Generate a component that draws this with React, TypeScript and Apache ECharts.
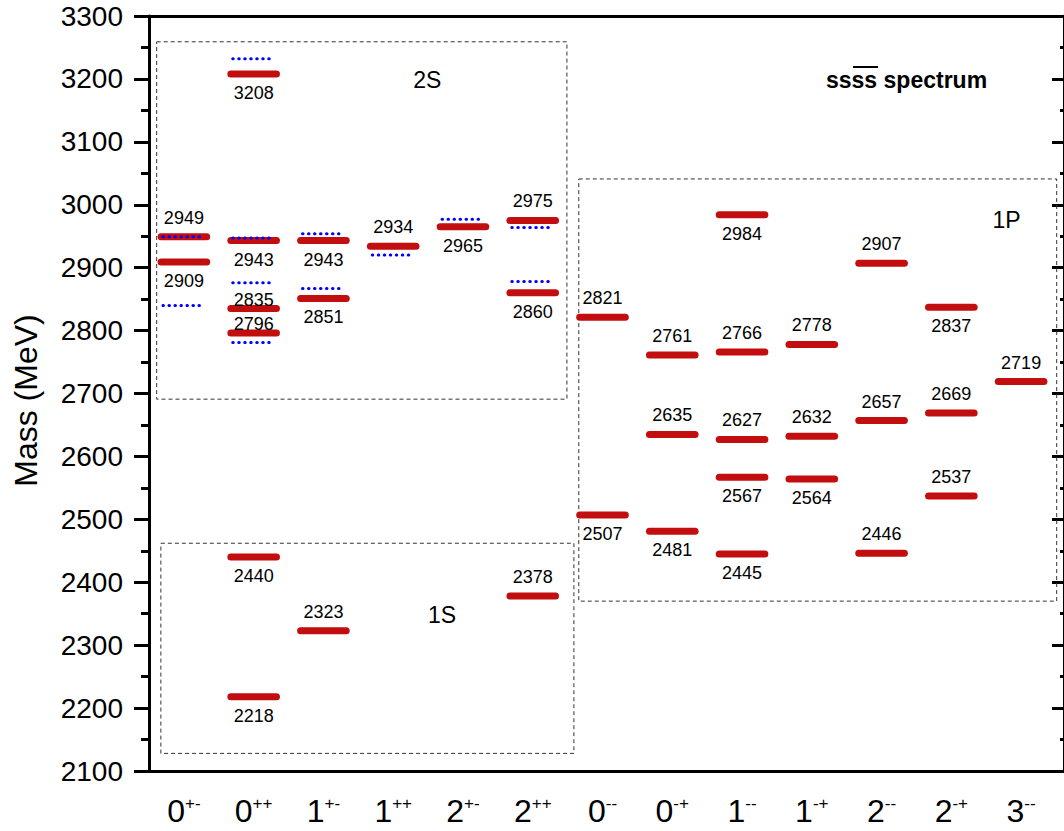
import { useEffect, useRef } from 'react';
import * as echarts from 'echarts';

// Quantum numbers J^{PC}
const categoryBase = ['0', '0', '1', '1', '2', '2', '0', '0', '1', '1', '2', '2', '3'];
const categorySup = ['+-', '++', '+-', '++', '+-', '++', '--', '-+', '--', '-+', '--', '-+', '--'];
const categories = categoryBase.map((b, i) => b + categorySup[i]);

// Predicted masses (MeV), red levels
const levelCategory = [0, 0, 1, 1, 1, 1, 1, 1, 2, 2, 2, 3, 4, 5, 5, 5, 6, 6, 7, 7, 7, 8, 8, 8, 8, 8, 9, 9, 9, 10, 10, 10, 11, 11, 11, 12];
const levelMass = [2949, 2909, 3208, 2943, 2835, 2796, 2440, 2218, 2943, 2851, 2323, 2934, 2965, 2975, 2860, 2378, 2821, 2507, 2761, 2635, 2481, 2984, 2766, 2627, 2567, 2445, 2778, 2632, 2564, 2907, 2657, 2446, 2837, 2669, 2537, 2719];
const levelLabelSide = ['above', 'below', 'below', 'below', 'close', 'close', 'below', 'below', 'below', 'below', 'above', 'above', 'below', 'above', 'below', 'above', 'above', 'below', 'above', 'above', 'below', 'below', 'above', 'above', 'below', 'below', 'above', 'above', 'below', 'above', 'above', 'above', 'below', 'above', 'above', 'above'];

// Comparison levels (blue dotted)
const refCategory = [0, 0, 1, 1, 1, 1, 2, 2, 3, 4, 5, 5];
const refMass = [2949, 2840, 3232, 2947, 2876, 2781, 2954, 2867, 2920, 2977, 2964, 2878];

// Multiplet boxes
const boxName = ['2S', '1S', '1P'];
const boxXFrom = [-0.39, -0.33, 5.66];
const boxXTo = [5.49, 5.59, 12.51];
const boxMassLow = [2691, 2128, 2370];
const boxMassHigh = [3259, 2462, 3041];
const boxLabelX = [3.49, 3.7, 11.79];
const boxLabelMass = [3198, 2348, 2976];

const yTicks = { min: 2100, max: 3300, interval: 100 };

const FONT = '"Liberation Sans", Arial, Helvetica, sans-serif';
const RED = '#c20e0e';
const BLUE = '#0000ff';

export default function App() {
  const ref = useRef<HTMLDivElement>(null);
  useEffect(() => {
    const chart = echarts.init(ref.current!, null, { renderer: 'svg' });
    const frameLine = (w: number) => ({ show: true, onZero: false, lineStyle: { color: '#000', width: w } });
    const option: any = {
      animation: false,
      backgroundColor: '#fff',
      grid: [
        { left: 149, right: 8, top: 16, bottom: 60 },
        { left: 149, right: 0, top: 16, bottom: 60 },
      ],
      xAxis: [
        {
          type: 'category', gridIndex: 0, position: 'bottom', data: categories, boundaryGap: true,
          axisLine: frameLine(3),
          axisTick: { length: 15, interval: 0, lineStyle: { color: '#000', width: 3 } },
          axisLabel: {
            margin: 24,
            interval: 0,
            formatter: (_v: string, i: number) => `{b|${categoryBase[i]}}{s|${categorySup[i]}}`,
            rich: {
              b: { fontSize: 32, fontFamily: FONT, color: '#000' },
              s: { fontSize: 17, fontFamily: FONT, color: '#000', verticalAlign: 'top' },
            },
          },
          splitLine: { show: false },
        },
        {
          type: 'category', gridIndex: 0, position: 'top', data: categories, boundaryGap: true,
          axisLine: frameLine(3),
          axisTick: { inside: true, length: 15, interval: 0, lineStyle: { color: '#000', width: 3 } },
          axisLabel: { show: false },
          splitLine: { show: false },
        },
        { type: 'value', gridIndex: 0, min: -0.5, max: 12.5, show: false, axisLine: { onZero: false } },
        {
          type: 'value', gridIndex: 1, position: 'bottom', min: 0, max: 1,
          axisLine: frameLine(3),
          axisTick: { show: false }, axisLabel: { show: false }, splitLine: { show: false },
        },
        {
          type: 'value', gridIndex: 1, position: 'top', min: 0, max: 1,
          axisLine: frameLine(3),
          axisTick: { show: false }, axisLabel: { show: false }, splitLine: { show: false },
        },
      ],
      yAxis: [
        {
          type: 'value', gridIndex: 0, position: 'left', ...yTicks,
          name: 'Mass (MeV)', nameLocation: 'middle', nameGap: 107,
          nameTextStyle: { fontSize: 32, fontFamily: FONT, color: '#000', padding: [0, 0, 0, -14] },
          axisLine: frameLine(3),
          axisTick: { show: true, length: 15, lineStyle: { color: '#000', width: 3 } },
          minorTick: { show: true, splitNumber: 2, length: 8, lineStyle: { color: '#000', width: 3 } },
          axisLabel: { fontSize: 28, fontFamily: FONT, color: '#000', margin: 26, formatter: (v: number) => String(v) },
          splitLine: { show: false },
        },
        {
          type: 'value', gridIndex: 1, position: 'right', ...yTicks,
          axisLine: frameLine(3),
          axisTick: { show: true, inside: true, length: 12, lineStyle: { color: '#000', width: 3 } },
          minorTick: { show: true, splitNumber: 2, length: 4, lineStyle: { color: '#000', width: 3 } },
          axisLabel: { show: false },
          splitLine: { show: false },
        },
      ],
      series: [
        {
          type: 'custom', xAxisIndex: 2, yAxisIndex: 0, z: 1,
          data: boxName.map((n, i) => [boxXFrom[i], boxXTo[i], boxMassLow[i], boxMassHigh[i], boxLabelX[i], boxLabelMass[i]]),
          renderItem: (params: any, api: any) => {
            const p1 = api.coord([api.value(0), api.value(3)]);
            const p2 = api.coord([api.value(1), api.value(2)]);
            const pl = api.coord([api.value(4), api.value(5)]);
            return {
              type: 'group',
              children: [
                {
                  type: 'rect',
                  shape: { x: p1[0], y: p1[1], width: p2[0] - p1[0], height: p2[1] - p1[1] },
                  style: { fill: 'none', stroke: '#333', lineWidth: 1, lineDash: [4, 3] },
                },
                {
                  type: 'text', x: pl[0], y: pl[1],
                  style: { text: boxName[params.dataIndex], fill: '#000', fontSize: 23, fontFamily: FONT, align: 'center', verticalAlign: 'middle' },
                },
              ],
            };
          },
        },
        {
          type: 'custom', xAxisIndex: 2, yAxisIndex: 0, z: 2,
          data: levelMass.map((m, i) => [levelCategory[i], m]),
          renderItem: (params: any, api: any) => {
            const c = api.coord([api.value(0), api.value(1)]);
            const band = api.size([1, 0])[0];
            const half = band * 0.327;
            const side = levelLabelSide[params.dataIndex];
            const dy = side === 'above' ? -19 : side === 'close' ? -9 : 19;
            return {
              type: 'group',
              children: [
                {
                  type: 'line',
                  shape: { x1: c[0] - half, y1: c[1], x2: c[0] + half, y2: c[1] },
                  style: { stroke: RED, lineWidth: 7, lineCap: 'round' },
                },
                {
                  type: 'text', x: c[0], y: c[1] + dy,
                  style: { text: String(api.value(1)), fill: '#000', fontSize: 18, fontFamily: FONT, align: 'center', verticalAlign: 'middle' },
                },
              ],
            };
          },
        },
        {
          type: 'custom', xAxisIndex: 2, yAxisIndex: 0, z: 3,
          data: refMass.map((m, i) => [refCategory[i], m]),
          renderItem: (_params: any, api: any) => {
            const c = api.coord([api.value(0), api.value(1)]);
            const band = api.size([1, 0])[0];
            const half = band * 0.3;
            return {
              type: 'line',
              shape: { x1: c[0] - half, y1: c[1], x2: c[0] + half, y2: c[1] },
              style: { stroke: BLUE, lineWidth: 3, lineCap: 'round', lineDash: [0.5, 5.5] },
            };
          },
        },
      ],
      graphic: [
        {
          type: 'text', left: 826, top: 68,
          style: { text: 'ssss spectrum', fill: '#000', fontSize: 23, fontWeight: 'bold', fontFamily: FONT },
        },
        {
          type: 'line', shape: { x1: 853, y1: 67, x2: 878, y2: 67 },
          style: { stroke: '#000', lineWidth: 2 },
        },
      ],
    };
    chart.setOption(option);
    return () => chart.dispose();
  }, []);
  return <div ref={ref} style={{ position: 'fixed', left: 0, top: 0, width: 1064, height: 831 }} />;
}
